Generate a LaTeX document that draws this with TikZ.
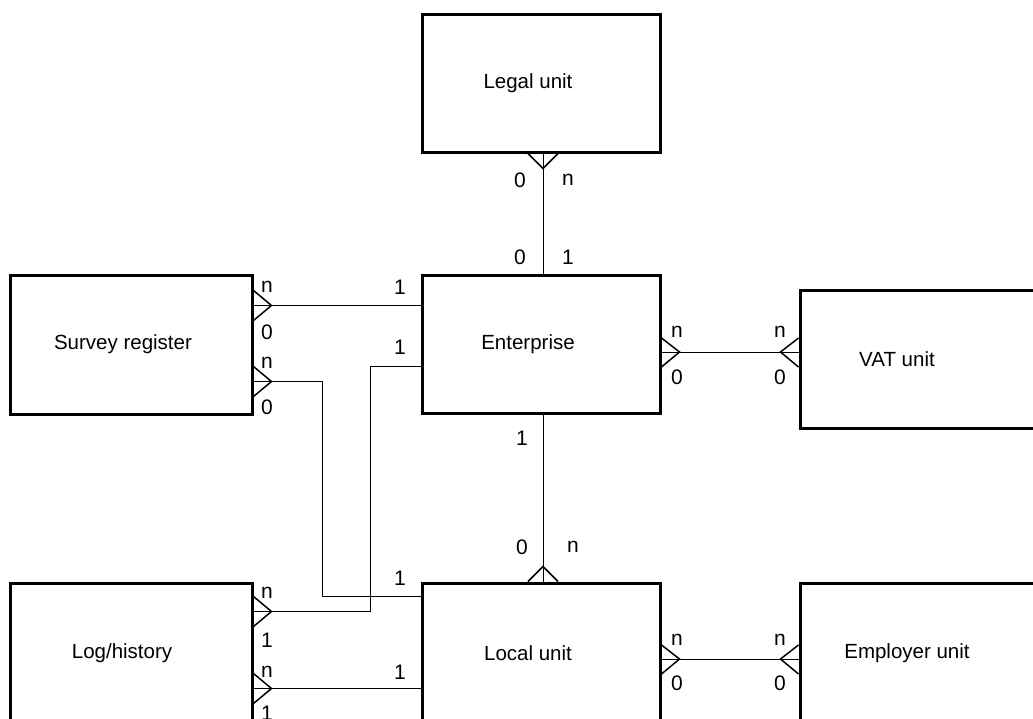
\documentclass[tikz,border=0pt]{standalone}
\usepackage{fontspec}
\setmainfont{Liberation Sans}
\usepackage{tikz}
\usetikzlibrary{calc}

\begin{document}
\begin{tikzpicture}[x=1pt, y=-1pt,
	unit/.style={draw, line width=3pt, minimum width=238pt, minimum height=138pt, inner sep=0pt, font=\fontsize{20.5}{24}\selectfont},
	lshift/.style={execute at end node={\hspace*{#1}}},
	conn/.style={line width=0.9pt},
	foot/.style={line width=1.5pt, line join=miter},
	lab/.style={inner sep=0pt, font=\fontsize{21}{24}\selectfont}]
	\useasboundingbox (0,0) rectangle (1033,718);
	\clip (0,0) rectangle (1033,718);
	%
	\node [unit, lshift=26pt] (legal) at (541,83) {Legal unit};
	\node [unit, lshift=26pt] (enterprise) at (541,344) {Enterprise};
	\node [unit, lshift=26pt, minimum height=140pt] (local) at (541,653) {Local unit};
	\node [unit, lshift=16pt, minimum width=242pt, minimum height=139pt] (survey) at (131,344.5) {Survey register};
	\node [unit, lshift=18pt, minimum width=242pt, minimum height=140pt] (log) at (131,653) {Log/history};
	\node [unit, lshift=56pt, minimum width=250pt] (vat) at (925,359) {VAT unit};
	\node [unit, lshift=36pt, minimum width=250pt, minimum height=140pt] (employer) at (925,653) {Employer unit};
	%
	\draw [conn] ([xshift=2pt]legal.south) -- ([xshift=2pt]enterprise.north);
	\draw [conn] ([xshift=2pt]enterprise.south) -- ([xshift=2pt]local.north);
	\draw [conn] ([yshift=-32pt]survey.north east) -- ([yshift=-32pt]enterprise.north west);
	\draw [conn] ([yshift=-108pt]survey.north east) -- ++(69pt,0) |- ([yshift=-15pt]local.north west);
	\draw [conn] ([yshift=-93pt]enterprise.north west) -- ++(-50pt,0) |- ([yshift=-30pt]log.north east);
	\draw [conn] ([yshift=-107pt]log.north east) -- ([yshift=-107pt]local.north west);
	\draw [conn] ([yshift=-8pt]enterprise.east) -- ([yshift=7pt]vat.west);
	\draw [conn] ([yshift=-6pt]local.east) -- ([yshift=-6pt]employer.west);
	%
	\draw [foot] ([xshift=-13pt]legal.south) -- ++(15pt,-15pt) -- ++(15pt,15pt);
	\draw [foot] ([xshift=-13pt]local.north) -- ++(15pt,15pt) -- ++(15pt,-15pt);
	\draw [foot] ([yshift=-17pt]survey.north east) -- ++(18pt,-15pt) -- ++(-18pt,-15pt);
	\draw [foot] ([yshift=-93pt]survey.north east) -- ++(18pt,-15pt) -- ++(-18pt,-15pt);
	\draw [foot] ([yshift=-15pt]log.north east) -- ++(18pt,-15pt) -- ++(-18pt,-15pt);
	\draw [foot] ([yshift=-92pt]log.north east) -- ++(18pt,-15pt) -- ++(-18pt,-15pt);
	\draw [foot] ([yshift=6pt]enterprise.east) -- ++(18pt,-14pt) -- ++(-18pt,-15pt);
	\draw [foot] ([yshift=21pt]vat.west) -- ++(-18pt,-14pt) -- ++(18pt,-15pt);
	\draw [foot] ([yshift=8pt]local.east) -- ++(18pt,-14pt) -- ++(-18pt,-15pt);
	\draw [foot] ([yshift=8pt]employer.west) -- ++(-18pt,-14pt) -- ++(18pt,-15pt);
	%
	\node [lab] (le0) at (520,180) {0};
	\node [lab] (len) at (568,180) {n};
	\node [lab] (el0) at (520,257) {0};
	\node [lab] (el1) at (568,257) {1};
	\node [lab] (sen) at (267,287) {n};
	\node [lab] (se0) at (267,332) {0};
	\node [lab] (es1) at (400,287) {1};
	\node [lab] (sln) at (267,363) {n};
	\node [lab] (sl0) at (267,407) {0};
	\node [lab] (ls1) at (400,578) {1};
	\node [lab] (eg1) at (400,347) {1};
	\node [lab] (gen) at (267,593) {n};
	\node [lab] (ge1) at (267,640) {1};
	\node [lab] (gln) at (267,672) {n};
	\node [lab] (gl1) at (267,713) {1};
	\node [lab] (lg1) at (400,672) {1};
	\node [lab] (el1b) at (522,438) {1};
	\node [lab] (le0b) at (522,547) {0};
	\node [lab] (lenb) at (573,547) {n};
	\node [lab] (evn) at (677,332) {n};
	\node [lab] (ev0) at (677,377) {0};
	\node [lab] (ven) at (780,332) {n};
	\node [lab] (ve0) at (780,377) {0};
	\node [lab] (lmn) at (677,640) {n};
	\node [lab] (lm0) at (677,683) {0};
	\node [lab] (mln) at (780,640) {n};
	\node [lab] (ml0) at (780,683) {0};
	\end{tikzpicture}
\end{document}
